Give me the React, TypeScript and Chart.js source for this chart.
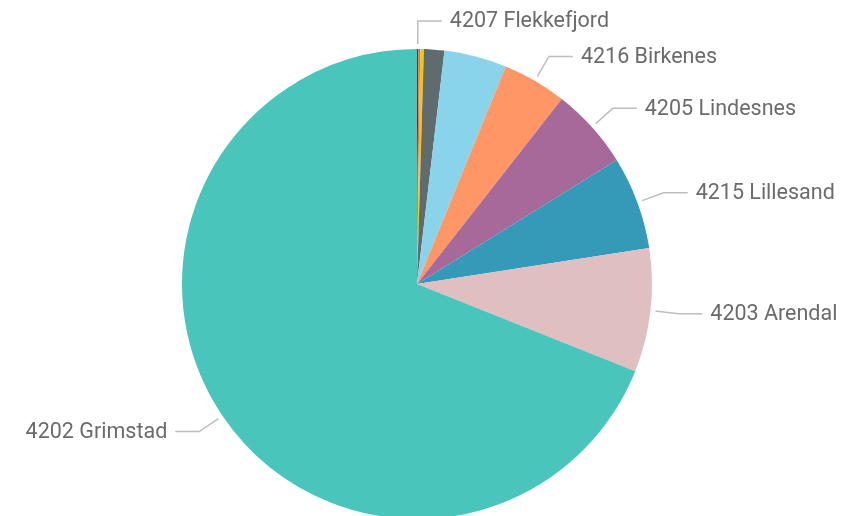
import React, { useEffect, useRef } from "react";
import { Chart, registerables } from "chart.js";

Chart.register(...registerables);

const categories = [
  "4207 Flekkefjord",
  "4206 Farsund",
  "4211 Gjerstad",
  "4214 Froland",
  "4201 Risør",
  "4216 Birkenes",
  "4205 Lindesnes",
  "4215 Lillesand",
  "4203 Arendal",
  "4202 Grimstad",
];
const values = [0.1, 0.12, 0.25, 1.4, 4.3, 4.4, 5.6, 6.4, 8.5, 69.0];
const showLabel = [true, false, false, false, false, true, true, true, true, true];
const colors = [
  "#374649",
  "#FD625E",
  "#F2C80F",
  "#5F6B6D",
  "#8AD4EB",
  "#FE9666",
  "#A66999",
  "#3599B8",
  "#DFBFBF",
  "#4AC5BB",
];

const labelPlugin = {
  id: "leaderLabels",
  afterDraw(chart: any) {
    const ctx = chart.ctx;
    const meta = chart.getDatasetMeta(0);
    ctx.save();
    ctx.font = '21.5px Roboto, "DejaVu Sans", sans-serif';
    ctx.textBaseline = "middle";
    meta.data.forEach((arc: any, i: number) => {
      if (!showLabel[i]) return;
      const { x, y, startAngle, endAngle, outerRadius } = arc.getProps(
        ["x", "y", "startAngle", "endAngle", "outerRadius"],
        true
      );
      const mid = (startAngle + endAngle) / 2;
      const cos = Math.cos(mid);
      const sin = Math.sin(mid);
      const sx = x + cos * (outerRadius + 5);
      const sy = y + sin * (outerRadius + 5);
      const ex = x + cos * (outerRadius + 28);
      const ey = y + sin * (outerRadius + 28);
      const right = ex >= x - 1;
      const hx = ex + (right ? 24 : -24);
      ctx.strokeStyle = "#bdbdbd";
      ctx.lineWidth = 1.5;
      ctx.beginPath();
      ctx.moveTo(sx, sy);
      ctx.lineTo(ex, ey);
      ctx.lineTo(hx, ey);
      ctx.stroke();
      ctx.fillStyle = "#6b6b6b";
      ctx.textAlign = right ? "left" : "right";
      ctx.fillText(categories[i], hx + (right ? 8 : -8), ey + 1);
    });
    ctx.restore();
  },
};

export default function App() {
  const ref = useRef<HTMLCanvasElement>(null);
  useEffect(() => {
    document.body.style.margin = "0";
    const chart = new Chart(ref.current!, {
      type: "pie",
      data: {
        labels: categories,
        datasets: [
          {
            data: values,
            backgroundColor: colors,
            borderWidth: 0,
          },
        ],
      },
      options: {
        animation: false,
        responsive: false,
        layout: { padding: { top: 49, bottom: 49, left: 182, right: 189 } },
        plugins: { legend: { display: false }, tooltip: { enabled: false } },
      },
      plugins: [labelPlugin],
    });
    return () => chart.destroy();
  }, []);
  return (
    <div style={{ position: "absolute", left: 0, top: 0, width: 841, height: 516, overflow: "hidden", background: "#fff" }}>
      <canvas ref={ref} width={841} height={568} style={{ width: 841, height: 568 }} />
    </div>
  );
}
